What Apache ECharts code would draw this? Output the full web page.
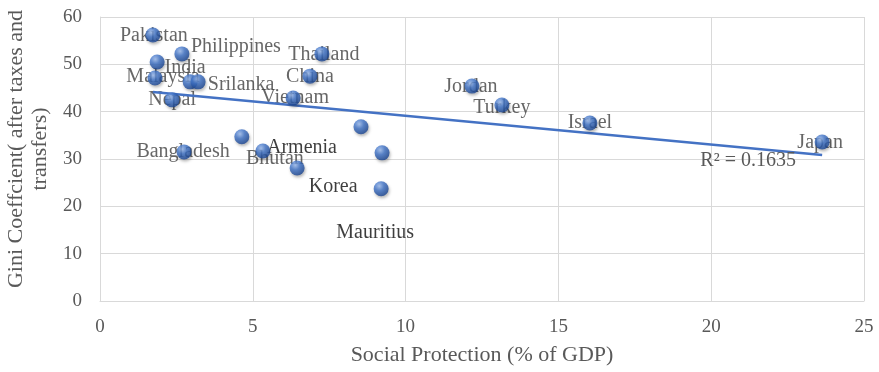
<!DOCTYPE html>
<html>
<head>
<meta charset="utf-8">
<script src="https://cdn.jsdelivr.net/npm/echarts@6/dist/echarts.min.js"></script>
<style>
  html, body { margin: 0; padding: 0; background: #ffffff; }
  #chart { width: 879px; height: 372px; }
</style>
</head>
<body>
<div id="chart"></div>
<script>
// Country names (blank where a point carries no label)
const countries = [
  'Pakistan', 'Philippines', 'India', 'Malaysia', '', 'Srilanka', 'Nepal',
  'Thailand', 'China', 'Vietnam', 'Bangladesh', 'Bhutan', '', 'Korea',
  'Armenia', '', 'Mauritius', 'Jordan', 'Turkey', 'Israel', 'Japan'
];
// Social protection spending, % of GDP
const socialProtection = [
  1.73, 2.68, 1.87, 1.80, 2.95, 3.21, 2.36,
  7.26, 6.87, 6.32, 2.75, 5.33, 4.64, 6.45,
  8.54, 9.23, 9.20, 12.17, 13.15, 16.03, 23.63
];
// Gini coefficient after taxes and transfers
const gini = [
  56.2, 52.2, 50.5, 47.1, 46.3, 46.3, 42.5,
  52.2, 47.5, 42.9, 31.5, 31.7, 34.7, 28.1,
  36.8, 31.3, 23.7, 45.4, 41.4, 37.6, 33.6
];
const xTicks = [0, 5, 10, 15, 20, 25];
const yTicks = [0, 10, 20, 30, 40, 50, 60];
const r2Text = 'R\u00B2 = 0.1635';

// Where each country label sits relative to its point (pixels)
const labelOffsets = {
  Pakistan: [1, 1], Philippines: [54, -7], India: [28, 6], Malaysia: [8, -1],
  Srilanka: [43, 3], Nepal: [0, 0], Thailand: [2, 1], China: [0, 1],
  Vietnam: [2, 0], Bangladesh: [-1, 0], Bhutan: [12, 8], Korea: [36, 19],
  Armenia: [-59, 21], Mauritius: [-6, 44], Jordan: [-1, 1], Turkey: [0, 3],
  Israel: [0, 0], Japan: [-2, 1]
};
const darkLabels = ['Armenia', 'Korea', 'Mauritius'];

// Least-squares trend line over the plotted points
const n = socialProtection.length;
const mx = socialProtection.reduce((a, b) => a + b, 0) / n;
const my = gini.reduce((a, b) => a + b, 0) / n;
let sxy = 0, sxx = 0;
for (let i = 0; i < n; i++) {
  sxy += (socialProtection[i] - mx) * (gini[i] - my);
  sxx += (socialProtection[i] - mx) ** 2;
}
const slope = sxy / sxx;
const intercept = my - slope * mx;
const xMin = Math.min(...socialProtection);
const xMax = Math.max(...socialProtection);

const serif = 'Liberation Serif, Times New Roman, serif';

const labelData = countries.map((name, i) => {
  const item = { name: name, value: [socialProtection[i], gini[i]] };
  if (name) {
    item.label = {
      show: true,
      offset: labelOffsets[name] || [0, 0],
      color: darkLabels.includes(name) ? '#0d0d0d' : '#404040'
    };
  } else {
    item.label = { show: false };
  }
  return item;
});

const ball = new echarts.graphic.RadialGradient(0.38, 0.32, 0.68, [
  { offset: 0, color: '#9cbcf0' },
  { offset: 0.45, color: '#3f73c8' },
  { offset: 1, color: '#1a4592' }
]);

const chart = echarts.init(document.getElementById('chart'), null, { renderer: 'canvas' });
chart.setOption({
  animation: false,
  backgroundColor: '#ffffff',
  grid: {
    left: 100, right: 15, top: 17, bottom: 71,
    containLabel: false, outerBoundsMode: 'none'
  },
  xAxis: {
    type: 'value',
    min: xTicks[0], max: xTicks[xTicks.length - 1], interval: 5,
    name: 'Social Protection (% of GDP)',
    nameLocation: 'middle', nameGap: 43,
    nameTextStyle: { fontFamily: serif, fontSize: 22, color: '#595959' },
    axisLine: { show: true, lineStyle: { color: '#d9d9d9', width: 1 } },
    axisTick: { show: false },
    axisLabel: { fontFamily: serif, fontSize: 19, color: '#595959', margin: 17 },
    splitLine: { show: true, lineStyle: { color: '#d9d9d9', width: 1 } }
  },
  yAxis: {
    type: 'value',
    min: yTicks[0], max: yTicks[yTicks.length - 1], interval: 10,
    name: 'Gini Coeffcient( after taxes and\ntransfers)',
    nameLocation: 'middle', nameGap: 43, nameRotate: 90,
    nameTextStyle: {
      fontFamily: serif, fontSize: 22, color: '#595959',
      lineHeight: 24, padding: [0, 0, 0, 20]
    },
    axisLine: { show: true, lineStyle: { color: '#d9d9d9', width: 1 } },
    axisTick: { show: false },
    axisLabel: { fontFamily: serif, fontSize: 19, color: '#595959', margin: 18 },
    splitLine: { show: true, lineStyle: { color: '#d9d9d9', width: 1 } }
  },
  series: [
    {
      // country labels, kept beneath the markers
      type: 'scatter',
      z: 2,
      symbolSize: 15,
      itemStyle: { color: 'rgba(0,0,0,0)' },
      silent: true,
      label: {
        position: 'inside',
        formatter: '{b}',
        fontFamily: serif,
        fontSize: 20
      },
      data: labelData
    },
    {
      // trend line
      type: 'line',
      z: 3,
      symbol: 'circle',
      symbolSize: 1,
      showSymbol: true,
      itemStyle: { color: 'rgba(0,0,0,0)' },
      lineStyle: { color: '#4472c4', width: 2.5 },
      silent: true,
      data: [
        { value: [xMin, intercept + slope * xMin] },
        {
          value: [xMax, intercept + slope * xMax],
          label: {
            show: true, position: 'inside', offset: [-74, 6],
            formatter: r2Text, fontFamily: serif, fontSize: 20, color: '#595959'
          }
        }
      ]
    },
    {
      // country markers
      type: 'scatter',
      z: 4,
      symbolSize: 15,
      itemStyle: {
        color: ball,
        shadowBlur: 3,
        shadowColor: 'rgba(0,0,0,0.35)',
        shadowOffsetX: 1,
        shadowOffsetY: 2
      },
      data: socialProtection.map((x, i) => [x, gini[i]])
    }
  ]
});
</script>
</body>
</html>
